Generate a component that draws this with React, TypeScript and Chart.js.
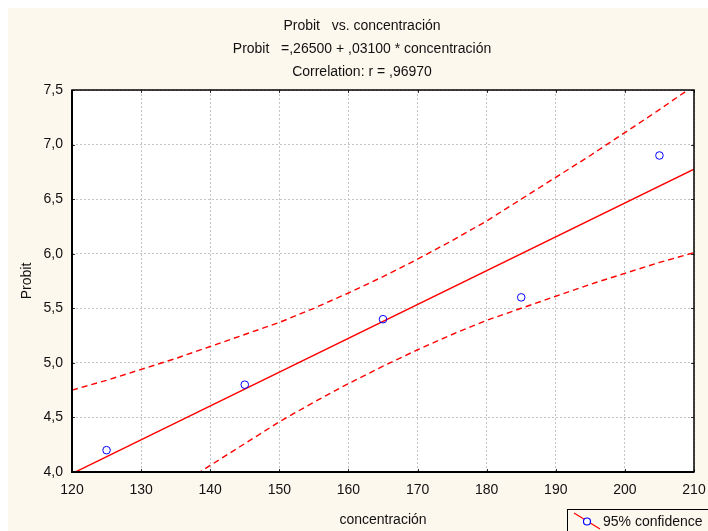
import React, { useEffect, useRef } from "react";
import { Chart, registerables } from "chart.js";

Chart.register(...registerables);

const titleLines = [
  "Probit   vs. concentración",
  "Probit   =,26500 + ,03100 * concentración",
  "Correlation: r = ,96970",
];
const xAxisTitle = "concentración";
const yAxisTitle = "Probit";
const legendLabel = "95% confidence";

const concentracion = [125, 145, 165, 185, 205];
const probit = [4.2, 4.8, 5.4, 5.6, 6.9];

const fitX = [120, 210];
const fitY = [3.985, 6.775];

const bandX = [120, 125, 130, 135, 140, 145, 150, 155, 160, 165, 170, 175, 180, 185, 190, 195, 200, 205, 210];
const upperBand = [4.75, 4.84, 4.94, 5.04, 5.15, 5.26, 5.37, 5.5, 5.64, 5.79, 5.95, 6.12, 6.3, 6.5, 6.7, 6.9, 7.11, 7.32, 7.54];
const lowerBand = [3.22, 3.44, 3.65, 3.86, 4.06, 4.26, 4.46, 4.64, 4.81, 4.97, 5.12, 5.26, 5.39, 5.5, 5.61, 5.72, 5.82, 5.92, 6.01];

const xTickMin = 120;
const xTickMax = 210;
const xTickStep = 10;
const yTickMin = 4.0;
const yTickMax = 7.5;
const yTickStep = 0.5;

const FONT = "'Liberation Sans', Arial, sans-serif";
const CREAM = "#FDF8EE";
const RED = "#FF0000";
const BLUE = "#0000FF";

const decorPlugin = {
  id: "decor",
  beforeDraw(chart: any) {
    const { ctx, width, height, chartArea } = chart;
    ctx.save();
    ctx.fillStyle = CREAM;
    ctx.fillRect(0, 0, width, height);
    ctx.fillStyle = "#FFFFFF";
    ctx.fillRect(chartArea.left, chartArea.top, chartArea.right - chartArea.left, chartArea.bottom - chartArea.top);
    ctx.restore();
  },
  afterDraw(chart: any) {
    const { ctx, chartArea } = chart;
    const { left, right, top, bottom } = chartArea;
    const xs = chart.scales.x;
    const ys = chart.scales.y;
    ctx.save();

    // inward tick marks on all sides
    ctx.strokeStyle = "#333";
    ctx.lineWidth = 1;
    ctx.beginPath();
    xs.ticks.forEach((t: any) => {
      const px = Math.round(xs.getPixelForValue(t.value)) + 0.5;
      ctx.moveTo(px, bottom);
      ctx.lineTo(px, bottom - 3);
      ctx.moveTo(px, top);
      ctx.lineTo(px, top + 3);
    });
    ys.ticks.forEach((t: any) => {
      const py = Math.round(ys.getPixelForValue(t.value)) + 0.5;
      ctx.moveTo(left, py);
      ctx.lineTo(left + 3, py);
      ctx.moveTo(right, py);
      ctx.lineTo(right - 3, py);
    });
    ctx.stroke();

    // plot frame
    ctx.strokeStyle = "#000";
    ctx.lineWidth = 1.5;
    ctx.strokeRect(left, top, right - left, bottom - top);
    ctx.lineWidth = 2;
    ctx.beginPath();
    ctx.moveTo(left, top);
    ctx.lineTo(left, bottom);
    ctx.lineTo(right, bottom);
    ctx.stroke();

    // titles
    ctx.fillStyle = "#111";
    ctx.font = `14px ${FONT}`;
    ctx.textAlign = "center";
    ctx.textBaseline = "middle";
    const titleYs = [18, 41, 64];
    titleLines.forEach((line, i) => ctx.fillText(line, 354, titleYs[i]));

    // axis titles
    ctx.fillText(xAxisTitle, (left + right) / 2, 512);
    ctx.save();
    ctx.translate(19, (top + bottom) / 2);
    ctx.rotate(-Math.PI / 2);
    ctx.fillText(yAxisTitle, 0, 0);
    ctx.restore();

    // legend box (partially off-canvas)
    const lx = 559.5;
    const ly = 501.5;
    ctx.fillStyle = CREAM;
    ctx.fillRect(lx, ly, 200, 40);
    ctx.strokeStyle = "#000";
    ctx.lineWidth = 1;
    ctx.strokeRect(lx, ly, 200, 40);
    ctx.strokeStyle = RED;
    ctx.lineWidth = 1.2;
    ctx.beginPath();
    ctx.moveTo(566, 505);
    ctx.lineTo(592, 521);
    ctx.stroke();
    ctx.strokeStyle = BLUE;
    ctx.fillStyle = "#FFFFFF";
    ctx.beginPath();
    ctx.arc(579, 513.5, 3.5, 0, Math.PI * 2);
    ctx.fill();
    ctx.stroke();
    ctx.fillStyle = "#111";
    ctx.textAlign = "left";
    ctx.fillText(legendLabel, 595, 514);

    ctx.restore();
  },
};

export default function App() {
  const canvasRef = useRef<HTMLCanvasElement | null>(null);

  useEffect(() => {
    if (!canvasRef.current) return;
    const pts = (xs: number[], ys: number[]) => xs.map((x, i) => ({ x, y: ys[i] }));
    const chart = new Chart(canvasRef.current, {
      type: "scatter",
      data: {
        datasets: [
          {
            label: "Probit",
            data: pts(concentracion, probit),
            showLine: false,
            pointStyle: "circle",
            pointRadius: 3.8,
            pointBorderWidth: 1,
            pointBorderColor: BLUE,
            pointBackgroundColor: "rgba(255,255,255,0)",
            order: 0,
          },
          {
            label: "Fit",
            data: pts(fitX, fitY),
            showLine: true,
            borderColor: RED,
            borderWidth: 1.4,
            pointRadius: 0,
            order: 1,
          },
          {
            label: "Upper 95%",
            data: pts(bandX, upperBand),
            showLine: true,
            borderColor: RED,
            borderWidth: 1.4,
            borderDash: [6, 4],
            pointRadius: 0,
            tension: 0,
            order: 2,
          },
          {
            label: "Lower 95%",
            data: pts(bandX, lowerBand),
            showLine: true,
            borderColor: RED,
            borderWidth: 1.4,
            borderDash: [6, 4],
            pointRadius: 0,
            tension: 0,
            order: 3,
          },
        ],
      },
      options: {
        responsive: false,
        animation: false,
        layout: { padding: { left: 0, right: 14, top: 82, bottom: 0 } },
        plugins: {
          legend: { display: false },
          title: { display: false },
          tooltip: { enabled: false },
        },
        scales: {
          x: {
            type: "linear",
            min: xTickMin,
            max: xTickMax,
            afterFit: (s: any) => {
              s.height = 59;
              s.paddingLeft = 0;
              s.paddingRight = 0;
            },
            ticks: {
              stepSize: xTickStep,
              padding: 10,
              color: "#111",
              font: { family: FONT, size: 14 },
              maxRotation: 0,
              callback: (v: any) => String(v),
            },
            grid: { color: "#C4C4C4", lineWidth: 1, drawTicks: false },
            border: { display: false, dash: [2, 2] },
          },
          y: {
            type: "linear",
            min: yTickMin,
            max: yTickMax,
            afterFit: (s: any) => {
              s.width = 64;
              s.paddingTop = 0;
              s.paddingBottom = 0;
            },
            ticks: {
              stepSize: yTickStep,
              padding: 9,
              color: "#111",
              font: { family: FONT, size: 14 },
              callback: (v: any) => Number(v).toFixed(1).replace(".", ","),
            },
            grid: { color: "#C4C4C4", lineWidth: 1, drawTicks: false },
            border: { display: false, dash: [2, 2] },
          },
        },
      },
      plugins: [decorPlugin],
    });
    return () => chart.destroy();
  }, []);

  return (
    <div style={{ position: "fixed", left: 8, top: 8, width: 700, height: 523, overflow: "hidden" }}>
      <canvas ref={canvasRef} width={700} height={523} style={{ display: "block" }} />
    </div>
  );
}
